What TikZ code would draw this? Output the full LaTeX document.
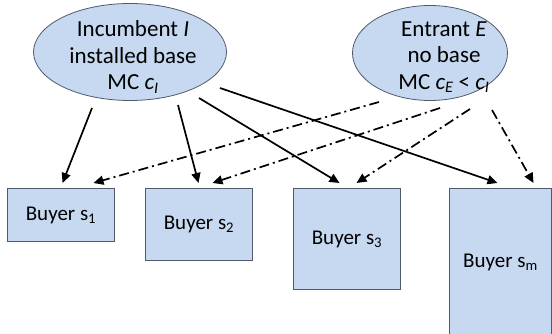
\documentclass[tikz,border=0pt]{standalone}
\usepackage{fontspec}
\setmainfont{Carlito}
\usetikzlibrary{arrows.meta,calc,positioning,shapes.geometric}
\definecolor{boxfill}{RGB}{198,217,241}
\definecolor{boxline}{RGB}{80,90,108}

\begin{document}
\begin{tikzpicture}[
    x=1pt, y=-1pt,
    firm/.style={
        ellipse, % shape
        inner sep=0pt,
        draw=boxline, line width=0.8pt, %border
        fill=boxfill
      },
    firmtext/.style={
        align=center,
        inner sep=0pt,
        font=\fontsize{23}{26.5}\selectfont
      },
    buyer/.style={
        rectangle,
        anchor=north west,
        inner sep=0pt,
        draw=boxline, line width=1pt,
        fill=boxfill,
        font=\fontsize{21}{24}\selectfont
      },
    own/.style={-{Triangle[length=10pt,width=9pt]}, line width=1.7pt},
    rival/.style={own, dash pattern=on 10pt off 4pt on 2pt off 4pt}
  ]
  \useasboundingbox (0,0) rectangle (552,334);
  \clip (0,0) rectangle (552,334);

  % the two firms
  \node (inc) [firm, minimum width=193pt, minimum height=97pt] at (130,52) {};
  \node (inctext) [firmtext] at (133,57) {Incumbent \textit{I}\\installed base\\MC \textit{c\textsubscript{I}}};
  \node (ent) [firm, minimum width=155pt, minimum height=95pt] at (430,53) {};
  \node (enttext) [firmtext] at (444,57) {Entrant \textit{E}\\no base\\MC \textit{c\textsubscript{E}} < \textit{c\textsubscript{I}}};

  % the buyers
  \node (s1) [buyer, minimum width=107pt, minimum height=53pt] at (7,188) {Buyer s\textsubscript{1}};
  \node (s2) [buyer, minimum width=107pt, minimum height=72pt] at (145,188) {Buyer s\textsubscript{2}};
  \node (s3) [buyer, minimum width=107pt, minimum height=101pt] at (293,188) {Buyer s\textsubscript{3}};
  \node (sm) [buyer, minimum width=102pt, minimum height=148pt] at (449,188) {Buyer s\textsubscript{m}};

  % incumbent offers
  \draw[own] ($(inc.center)+(-38,56)$) -- ($(s1.north)+(1.5,-5)$);
  \draw[own] ($(inc.center)+(48,53)$) -- ($(s2.north)+(-0.5,-5)$);
  \draw[own] ($(inc.center)+(69,46)$) -- ($(s3.north)+(-7.5,-5)$);
  \draw[own] ($(inc.center)+(90,36)$) -- ($(sm.north)+(-3,-5)$);

  % entrant offers
  \draw[rival] ($(ent.center)+(-51,49)$) -- ($(s1.north)+(32.5,-5)$);
  \draw[rival] ($(ent.center)+(10,55)$) -- ($(s2.north)+(13.5,-5)$);
  \draw[rival] ($(ent.center)+(40,56)$) -- ($(s3.north)+(9.5,-5)$);
  \draw[rival] ($(ent.center)+(62,57)$) -- ($(sm.north)+(33,-5)$);
\end{tikzpicture}
\end{document}
